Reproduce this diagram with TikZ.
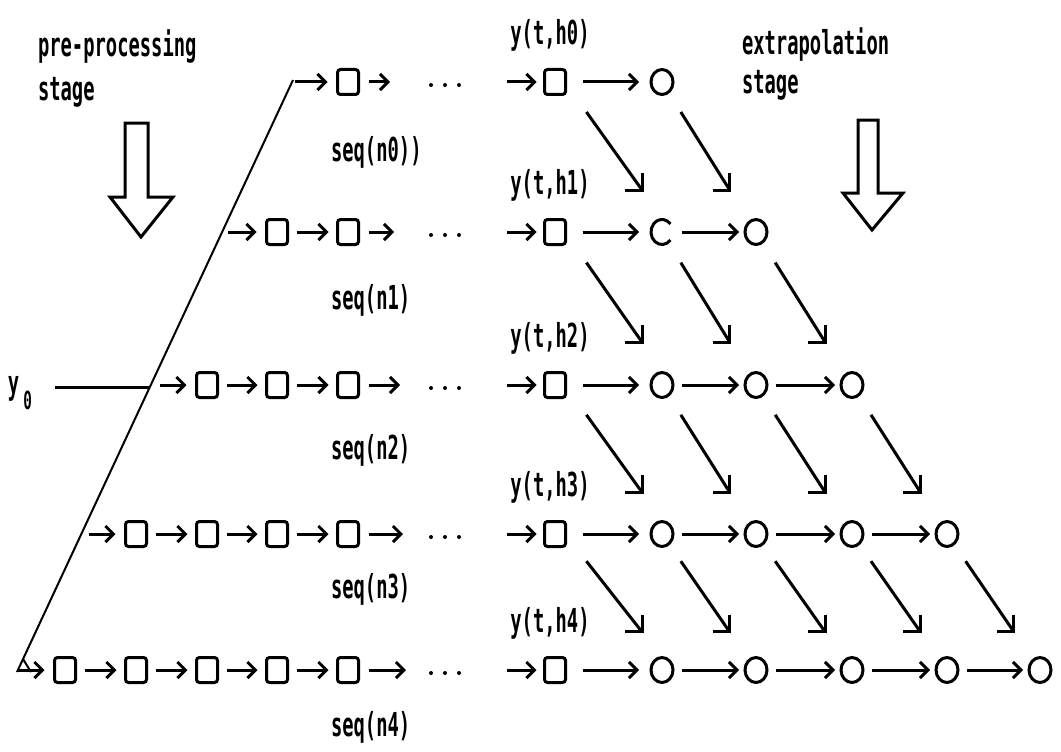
\documentclass[tikz,border=0pt]{standalone}
\usepackage{fontspec}
\newfontfamily\lab[FakeStretch=0.57]{DejaVu Sans Mono}
\usetikzlibrary{arrows.meta,calc,shapes.geometric}
\begin{document}
\begin{tikzpicture}[x=1pt, y=-1pt, line width=3pt,
  txt/.style={font=\lab\bfseries\fontsize{33pt}{36pt}\selectfont, inner sep=0pt, outer sep=0pt},
  sq/.style={draw, rectangle, rounded corners=3pt, minimum width=21pt, minimum height=25pt, inner sep=0pt, outer sep=0pt},
  rd/.style={draw, ellipse, minimum width=22pt, minimum height=25pt, inner sep=0pt, outer sep=0pt},
  tip/.style={-{Straight Barb[length=8pt,width=16pt]}},
  arr/.style={tip, shorten <=9pt, shorten >=9pt},
  diag/.style={line width=3pt},
  hollow/.style={line width=3pt, line join=miter},
  slant/.style={line width=2pt}]
\useasboundingbox (0,0) rectangle (1061,752);

% stage captions
\node[txt, anchor=base west] (pre1) at (38,57) {pre-processing};
\node[txt, anchor=base west] (pre2) at (38,100) {stage};
\node[txt, anchor=base west] (ext1) at (742,55) {extrapolation};
\node[txt, anchor=base west] (ext2) at (742,93) {stage};

% big hollow arrows
\draw[hollow] (125,123) -- (148,123) -- (148,197) -- (173,197) -- (141,237) -- (110,197) -- (125,197) -- cycle;
\draw[hollow] (858,120) -- (878,120) -- (878,193) -- (903,193) -- (872,230) -- (843,193) -- (858,193) -- cycle;

% slanted input line and y0 feed
\coordinate (ltop) at (293,80);
\coordinate (lbot) at (17,672);
\draw[slant] (ltop) -- (lbot);
\draw[slant] (23,659) -- (31,672);
\node[txt, anchor=base west] (y0) at (8,394) {y\kern4pt\raisebox{-15pt}{\fontsize{25pt}{27pt}\selectfont 0}};
\coordinate (y0a) at (55,387);
\coordinate (y0b) at (150,387);
\draw (y0a) -- (y0b);

% rows
\foreach \k/\r/\ix/\ax/\sy in {0/82/295/390/152, 1/232/228/394/300, 2/385/160/400/450, 3/534/89/403/589, 4/670/17/406/727}{
  \pgfmathtruncatemacro\first{4-\k}
  \foreach \j/\x in {0/65,1/136,2/207,3/277,4/348}{
    \ifnum\j<\first\relax\else \node[sq] (L-\k-\j) at (\x,\r) {};\fi
  }
  \foreach \j in {0,...,3}{
    \ifnum\j<\first\relax\else
      \pgfmathtruncatemacro\jn{\j+1}
      \draw[arr] (L-\k-\j) -- (L-\k-\jn);
    \fi
  }
  \coordinate (in-\k) at (\ix,\r);
  \draw[tip, shorten >=10pt] (in-\k) -- (L-\k-\first);
  \coordinate (out-\k) at (\ax,\r);
  \draw[tip, shorten <=10pt] (L-\k-4) -- (out-\k);
  \foreach \dx in {431,445,459} \fill (\dx,\r+3) circle (2pt);
  \coordinate (pre-\k) at (507,\r);
  \node[sq] (X-\k-0) at (555,\r) {};
  \draw[tip, shorten >=8pt] (pre-\k) -- (X-\k-0);
  \foreach \j/\x in {1/662,2/756,3/852,4/947,5/1040}{
    \pgfmathtruncatemacro\lim{\k+1}
    \pgfmathtruncatemacro\isC{(\k==1)&&(\j==1)}
    \ifnum\j>\lim\relax\else
      \ifnum\isC=1
        \node[rd, draw=none] (X-\k-\j) at (\x,\r) {};
      \else
        \node[rd] (X-\k-\j) at (\x,\r) {};
      \fi
    \fi
  }
  \foreach \j in {0,...,\k}{
    \pgfmathtruncatemacro\jn{\j+1}
    \ifnum\j=0
      \draw[tip, shorten <=17pt, shorten >=12pt] (X-\k-0) -- (X-\k-1);
    \else
      \draw[tip, shorten <=9pt, shorten >=6pt] (X-\k-\j) -- (X-\k-\jn);
    \fi
  }
  \node[txt] (h-\k) at (550,\r-47) {y(t,h\k)};
  \node[txt, anchor=west] (s-\k) at (331,\sy) {seq(n\k)\ifnum\k=0 )\fi};
}

% open circle in the second row
\draw ($(X-1-1)+(40:11 and 12.5)$) arc[start angle=40, end angle=320, x radius=11, y radius=12.5];

% diagonal feeds between rows
\foreach \k in {0,...,3}{
  \pgfmathtruncatemacro\kn{\k+1}
  \pgfmathtruncatemacro\last{\k+1}
  \foreach \j in {0,...,\last}{
    \pgfmathtruncatemacro\jn{\j+1}
    \pgfmathsetmacro\sh{\j==0 ? 10 : 0}
    \coordinate (ds) at ($(X-\k-\j)!0.2!(X-\kn-\jn)+(\sh,0)$);
    \coordinate (de) at ($(X-\k-\j)!0.72!(X-\kn-\jn)+(\sh,0)$);
    \draw[diag] (ds) -- (de);
    \draw[diag, line join=miter] ([xshift=-17pt]de) -- (de) -- ([yshift=17pt]de);
  }
}
\end{tikzpicture}
\end{document}
